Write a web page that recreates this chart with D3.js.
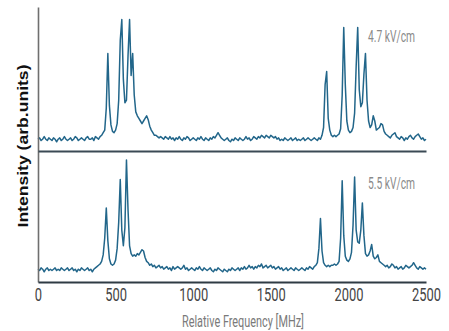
<!DOCTYPE html>
<html>
<head>
<meta charset="utf-8">
<script src="https://cdn.jsdelivr.net/npm/d3@7"></script>
<style>
  body { margin: 0; background: #fff; }
</style>
</head>
<body>
<div id="chart"></div>
<script>
// frequency grid of the recorded spectra (MHz)
const freqStep = 10;
const frequencies = d3.range(0, 2501, freqStep);

const xTicks = [0, 500, 1000, 1500, 2000, 2500];
const fieldLabels = ["4.7 kV/cm", "5.5 kV/cm"];

// spectrum at 4.7 kV/cm (arb. units, one value per 10 MHz)
const spectrum47 = [
  6, 7, 5, 6, 8, 6, 5, 7, 6, 5,
  7, 6, 4, 6, 7, 5, 6, 8, 6, 5,
  6, 7, 5, 6, 8, 7, 5, 6, 7, 6,
  5, 7, 8, 6, 6, 7, 5, 8, 7, 6,
  8, 9, 11, 13, 30, 72, 32, 17, 12, 11,
  13, 18, 36, 82, 98, 52, 34, 36, 70, 98,
  55, 72, 40, 27, 24, 22, 20, 18, 20, 22,
  24, 21, 16, 13, 11, 9, 9, 8, 7, 8,
  7, 6, 8, 7, 6, 8, 6, 7, 5, 7,
  6, 8, 6, 5, 7, 6, 8, 7, 5, 6,
  7, 6, 5, 7, 6, 8, 6, 5, 7, 6,
  5, 7, 6, 8, 7, 9, 11, 9, 7, 6,
  5, 6, 7, 5, 4, 6, 5, 7, 6, 5,
  7, 6, 5, 6, 8, 6, 7, 5, 6, 8,
  7, 6, 8, 7, 9, 8, 7, 9, 8, 7,
  9, 8, 7, 8, 6, 7, 5, 6, 5, 7,
  6, 5, 6, 7, 5, 6, 7, 5, 6, 5,
  6, 7, 5, 6, 7, 6, 5, 6, 7, 6,
  5, 7, 6, 9, 15, 48, 58, 22, 13, 9,
  8, 9, 8, 9, 10, 14, 40, 92, 48, 20,
  13, 11, 12, 15, 26, 62, 92, 44, 31, 34,
  56, 72, 36, 20, 15, 17, 24, 20, 13, 14,
  15, 18, 17, 12, 10, 9, 8, 7, 9, 10,
  11, 8, 7, 6, 8, 7, 5, 7, 6, 8,
  9, 7, 6, 8, 9, 10, 8, 6, 7, 5,
  6
];

// spectrum at 5.5 kV/cm
const spectrum55 = [
  6, 5, 7, 6, 4, 6, 7, 5, 6, 5,
  6, 7, 5, 6, 5, 7, 6, 5, 6, 7,
  5, 6, 7, 5, 6, 4, 6, 5, 7, 6,
  5, 6, 7, 5, 6, 4, 6, 7, 8, 9,
  10, 12, 17, 30, 53, 28, 14, 10, 9, 10,
  13, 22, 42, 75, 36, 24, 38, 90, 52, 24,
  18, 16, 17, 16, 18, 17, 19, 21, 20, 15,
  12, 11, 9, 10, 8, 9, 7, 8, 9, 7,
  8, 6, 7, 8, 6, 7, 5, 8, 6, 7,
  8, 7, 6, 7, 9, 6, 7, 5, 6, 7,
  6, 5, 7, 6, 8, 6, 5, 7, 6, 5,
  6, 7, 5, 4, 6, 5, 7, 6, 5, 4,
  6, 5, 4, 6, 5, 7, 6, 5, 6, 7,
  5, 7, 6, 8, 6, 7, 9, 7, 8, 6,
  8, 7, 9, 8, 10, 7, 8, 9, 7, 8,
  9, 7, 8, 6, 7, 8, 6, 7, 5, 6,
  7, 5, 6, 7, 6, 5, 7, 6, 5, 6,
  7, 6, 5, 7, 6, 8, 7, 6, 8, 9,
  11, 22, 45, 20, 11, 9, 8, 9, 8, 9,
  9, 10, 9, 10, 12, 30, 74, 32, 16, 13,
  12, 14, 19, 40, 77, 36, 27, 26, 36, 57,
  32, 18, 16, 17, 20, 25, 16, 14, 15, 17,
  12, 11, 10, 9, 8, 9, 7, 8, 10, 9,
  7, 8, 6, 7, 8, 6, 7, 9, 8, 7,
  8, 9, 11, 9, 7, 6, 8, 7, 6, 7,
  6
];

const width = 449;
const height = 331;
const lineColor = "#22668a";

const svg = d3.select("#chart")
  .append("svg")
  .attr("width", width)
  .attr("height", height);

const x = d3.scaleLinear().domain([0, 2500]).range([38, 426]);

// two stacked panels sharing the x axis
const yTop = d3.scaleLinear().domain([0, 100]).range([147, 17]);
const yBottom = d3.scaleLinear().domain([0, 100]).range([277, 147]);

const panels = [
  { data: spectrum47, y: yTop, label: fieldLabels[0], labelY: 42 },
  { data: spectrum55, y: yBottom, label: fieldLabels[1], labelY: 189 }
];

panels.forEach(p => {
  const line = d3.line()
    .x((d, i) => x(frequencies[i]))
    .y(d => p.y(d));

  svg.append("path")
    .datum(p.data)
    .attr("fill", "none")
    .attr("stroke", lineColor)
    .attr("stroke-width", 1.5)
    .attr("stroke-linejoin", "round")
    .attr("d", line);

  svg.append("text")
    .attr("x", 368)
    .attr("y", p.labelY)
    .attr("textLength", 47)
    .attr("lengthAdjust", "spacingAndGlyphs")
    .style("font-family", "Roboto, sans-serif")
    .style("font-size", "16px")
    .style("fill", "#8a8a8a")
    .text(p.label);
});

// left axis spanning both panels
const frame = d3.scaleLinear().domain([0, 1]).range([282, 7]);
svg.append("g")
  .attr("transform", "translate(38,0)")
  .call(d3.axisLeft(frame).ticks(0).tickSizeOuter(0))
  .select(".domain")
  .attr("stroke", "#6f6f6f")
  .attr("stroke-width", 1.6);

// separator between panels
svg.append("g")
  .attr("transform", "translate(0,151)")
  .call(d3.axisBottom(x).ticks(0).tickSizeOuter(0))
  .select(".domain")
  .attr("stroke", "#3b4a55")
  .attr("stroke-width", 1.8);

// bottom x axis
const xAxis = svg.append("g")
  .attr("transform", "translate(0,282)")
  .call(d3.axisBottom(x)
    .tickValues(xTicks)
    .tickFormat(d3.format("d"))
    .tickSize(0)
    .tickSizeOuter(0)
    .tickPadding(6));

xAxis.select(".domain")
  .attr("stroke", "#2f3b44")
  .attr("stroke-width", 2);

xAxis.selectAll("text")
  .attr("transform", "scale(0.68,1)")
  .style("font-family", "Roboto, sans-serif")
  .style("font-size", "19px")
  .style("fill", "#444");

// axis titles
svg.append("text")
  .attr("x", 243)
  .attr("y", 327)
  .attr("text-anchor", "middle")
  .attr("textLength", 122)
  .attr("lengthAdjust", "spacingAndGlyphs")
  .style("font-family", "Roboto, sans-serif")
  .style("font-size", "17px")
  .style("fill", "#7a7a7a")
  .text("Relative Frequency [MHz]");

svg.append("text")
  .attr("transform", "translate(28,146) rotate(-90)")
  .attr("text-anchor", "middle")
  .attr("textLength", 163)
  .attr("lengthAdjust", "spacingAndGlyphs")
  .style("font-family", "'Liberation Sans', Arial, sans-serif")
  .style("font-size", "15px")
  .style("font-weight", "bold")
  .style("fill", "#111")
  .text("Intensity (arb.units)");
</script>
</body>
</html>
